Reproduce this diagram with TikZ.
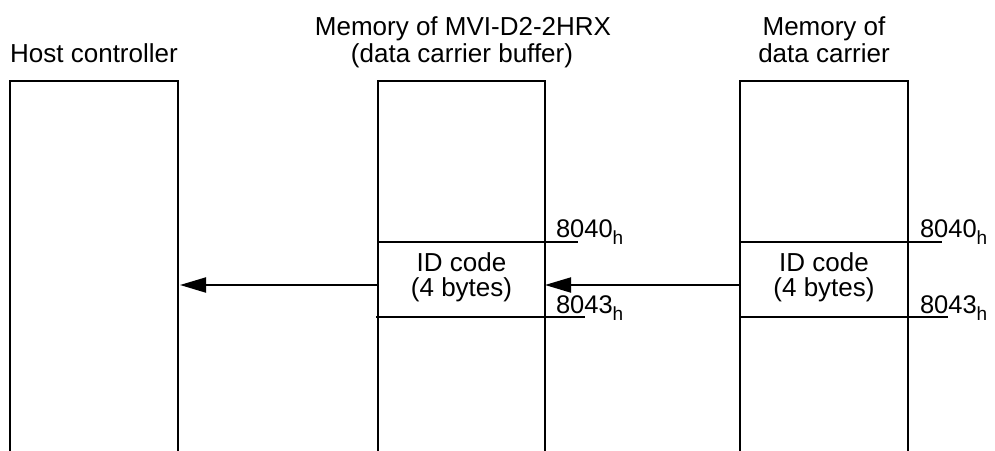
\documentclass[tikz,border=0pt]{standalone}
\usepackage{fontspec}
\setmainfont{Liberation Sans}
\usetikzlibrary{arrows.meta}
\newcommand{\hsub}{\raisebox{-7pt}{\fontsize{19}{19}\selectfont h}}
\begin{document}
\begin{tikzpicture}[x=1pt,y=-1pt,line width=2pt,line join=miter,
  txt/.style={font=\fontsize{26}{28}\selectfont,inner sep=0pt,anchor=base},
  addr/.style={font=\fontsize{25.5}{28}\selectfont,inner sep=0pt,anchor=base west},
  arr/.style={-{Triangle[length=26pt,width=15pt]},line width=2pt}]
\useasboundingbox (0,0) rectangle (995,450);
% columns (open at bottom)
\draw (10,452) -- (10,81) -- (178,81) -- (178,452);
\draw (378,452) -- (378,81) -- (545,81) -- (545,452);
\draw (740,452) -- (740,81) -- (908,81) -- (908,452);
% titles
\node[txt] (host) at (94,62) {Host controller};
\node[txt] (mvi1) at (463,35) {Memory of MVI-D2-2HRX};
\node[txt] (mvi2) at (462,62) {(data carrier buffer)};
\node[txt] (dc1) at (824,35) {Memory of};
\node[txt] (dc2) at (824,62) {data carrier};
% ID code regions
\draw (378,241.5) -- (578,241.5);
\draw (376,316.5) -- (585,316.5);
\draw (740,241.5) -- (942,241.5);
\draw (740,316.5) -- (948,316.5);
\node[txt] (id1a) at (461.5,271) {ID code};
\node[txt] (id1b) at (461.5,296) {(4 bytes)};
\node[txt] (id2a) at (824,271) {ID code};
\node[txt] (id2b) at (824,296) {(4 bytes)};
% addresses
\node[addr] (a1) at (555,237) {8040\hsub};
\node[addr] (a2) at (555,313) {8043\hsub};
\node[addr] (a3) at (919,237) {8040\hsub};
\node[addr] (a4) at (919,313) {8043\hsub};
% connectors
\coordinate (dcL) at (740,285);
\coordinate (mviR) at (545,285);
\coordinate (mviL) at (378,285);
\coordinate (hostR) at (180,285);
\draw[arr] (dcL) -- (mviR);
\draw[arr] (mviL) -- (hostR);
\end{tikzpicture}
\end{document}
